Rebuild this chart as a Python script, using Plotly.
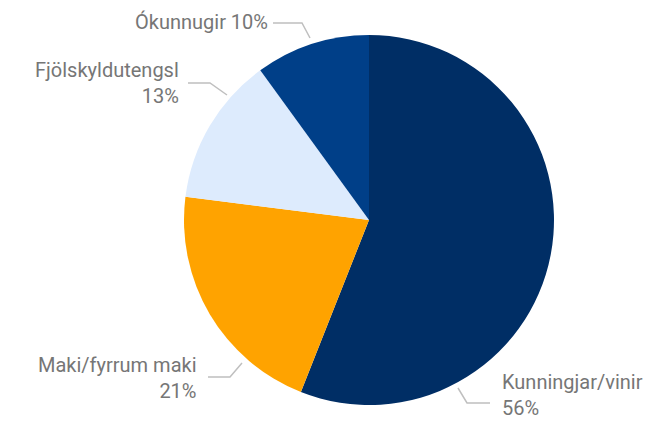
import plotly.graph_objects as go

# Relationship categories and their shares (%)
categories = ["Kunningjar/vinir", "Maki/fyrrum maki", "Fjölskyldutengsl", "Ókunnugir"]
shares = [56, 21, 13, 10]
slice_colors = ["#002E65", "#FFA300", "#DDEBFD", "#003F88"]

W, H = 660, 423
CX, CY, R = 369, 220, 185  # pie centre and radius in pixels

fig = go.Figure(
    go.Pie(
        labels=categories,
        values=shares,
        sort=False,
        direction="clockwise",
        rotation=0,
        marker=dict(colors=slice_colors, line=dict(width=0)),
        textinfo="none",
        hoverinfo="label+percent",
        domain=dict(
            x=[(CX - R) / W, (CX + R) / W],
            y=[(H - CY - R) / H, (H - CY + R) / H],
        ),
        showlegend=False,
    )
)


def px(x, y):
    return x / W, 1 - y / H


# Label layout: leader polyline (pixels), text anchor, vertical placement
label_layout = [
    dict(line=[(458, 388), (467, 403), (490, 403)], xanchor="left", x=500,
         y=422, yanchor="bottom", wrap=True),
    dict(line=[(242, 363), (230, 377), (208, 377)], xanchor="right", x=199,
         y=378, yanchor="middle", wrap=True),
    dict(line=[(227, 95), (210, 83), (188, 83)], xanchor="right", x=181,
         y=83, yanchor="middle", wrap=True),
    dict(line=[(310, 38), (302, 23), (273, 23)], xanchor="right", x=270,
         y=22, yanchor="middle", wrap=False),
]

shapes = []
annotations = []
for name, val, lay in zip(categories, shares, label_layout):
    pts = [px(*p) for p in lay["line"]]
    path = "M " + " L ".join(f"{a},{b}" for a, b in pts)
    shapes.append(dict(type="path", path=path, xref="paper", yref="paper",
                       line=dict(color="#BFBFBF", width=1.5)))
    sep = "<br>" if lay["wrap"] else " "
    xx, yy = px(lay["x"], lay["y"])
    annotations.append(dict(
        x=xx, y=yy, xref="paper", yref="paper", text=f"{name}{sep}{val}%",
        showarrow=False, align=lay["xanchor"],
        xanchor=lay["xanchor"], yanchor=lay["yanchor"],
        font=dict(family="Roboto", size=20, color="#767676"),
    ))

fig.update_layout(
    width=W, height=H,
    margin=dict(l=0, r=0, t=0, b=0),
    paper_bgcolor="white",
    plot_bgcolor="white",
    shapes=shapes,
    annotations=annotations,
)

fig.write_html("out.html")
